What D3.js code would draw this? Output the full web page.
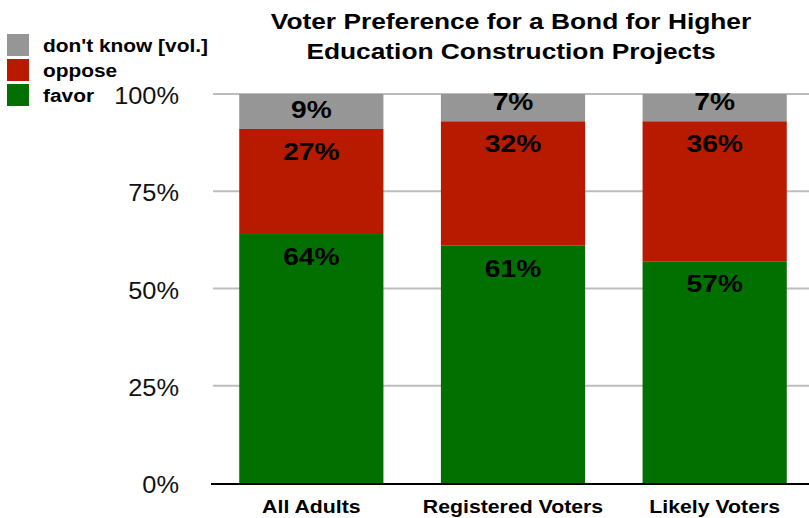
<!DOCTYPE html>
<html>
<head>
<meta charset="utf-8">
<script src="https://cdn.jsdelivr.net/npm/d3@7"></script>
<style>
  body { margin: 0; background: #fff; }
  text { font-family: "Liberation Sans", Arial, Helvetica, sans-serif; }
</style>
</head>
<body>
<script>
// chart data
var groups = ["All Adults", "Registered Voters", "Likely Voters"];
var keys = ["favor", "oppose", "dontknow"];
var keyLabels = ["favor", "oppose", "don't know [vol.]"];
var favor = [64, 61, 57];
var oppose = [27, 32, 36];
var dontknow = [9, 7, 7];
var yTicks = [0, 25, 50, 75, 100];
var colors = ["#017000", "#b81a00", "#969696"];

var width = 809, height = 518;
var wide = 1.15; // the original lettering is a bit wider than Arial

var svg = d3.select("body").append("svg")
    .attr("width", width)
    .attr("height", height);

// build rows for the stack
var rows = groups.map(function(g, i){
    return {group: g, favor: favor[i], oppose: oppose[i], dontknow: dontknow[i]};
});
var series = d3.stack().keys(keys)(rows);

var x = d3.scaleBand()
    .domain(groups)
    .range([211, 815])
    .paddingInner(0.285)
    .paddingOuter(0.14);

var y = d3.scaleLinear()
    .domain([0, 100])
    .range([483, 94]);

// gridlines
svg.append("g").selectAll("line")
    .data(yTicks.filter(function(d){ return d > 0; }))
    .enter().append("line")
    .attr("x1", 213).attr("x2", width)
    .attr("y1", function(d){ return y(d); })
    .attr("y2", function(d){ return y(d); })
    .attr("stroke", "#bdbdbd")
    .attr("stroke-width", 2);

// y axis labels
var yAxis = d3.axisLeft(y).tickValues(yTicks)
    .tickFormat(function(d){ return d + "%"; })
    .tickSize(0).tickPadding(0);
var ya = svg.append("g").attr("transform", "translate(179,2)").call(yAxis);
ya.select(".domain").remove();
ya.selectAll("text")
    .attr("font-size", 23.5)
    .attr("fill", "#111")
    .attr("transform", "scale(1.08,1)")
    .style("font-family", "'Liberation Sans', Arial, sans-serif");

// bars
var layer = svg.append("g").selectAll("g")
    .data(series)
    .enter().append("g")
    .attr("fill", function(d, i){ return colors[i]; });

layer.selectAll("rect")
    .data(function(d){ return d; })
    .enter().append("rect")
    .attr("x", function(d){ return x(d.data.group); })
    .attr("width", x.bandwidth())
    .attr("y", function(d){ return y(d[1]); })
    .attr("height", function(d){ return y(d[0]) - y(d[1]); });

// value labels
layer.selectAll("text")
    .data(function(d){ return d; })
    .enter().append("text")
    .attr("transform", function(d){
        var top = y(d[1]), bottom = y(d[0]);
        var ty = Math.min(top + 31, bottom - 11);
        var tx = x(d.data.group) + x.bandwidth() / 2;
        return "translate(" + tx + "," + ty + ") scale(" + wide + ",1)";
    })
    .attr("text-anchor", "middle")
    .attr("font-size", 24.5)
    .attr("font-weight", "bold")
    .attr("fill", "#000")
    .text(function(d){ return (d[1] - d[0]) + "%"; });

// baseline
svg.append("line")
    .attr("x1", 211).attr("x2", width)
    .attr("y1", y(0) + 1).attr("y2", y(0) + 1)
    .attr("stroke", "#000")
    .attr("stroke-width", 2);

// x axis labels
var xAxis = d3.axisBottom(x).tickSize(0).tickPadding(0);
var xa = svg.append("g").attr("transform", "translate(0,513)").call(xAxis);
xa.select(".domain").remove();
xa.selectAll("text")
    .attr("font-size", 18.5)
    .attr("font-weight", "bold")
    .attr("fill", "#000")
    .attr("dy", 0)
    .attr("transform", "scale(" + wide + ",1)")
    .style("font-family", "'Liberation Sans', Arial, sans-serif");

// title
var titleLines = ["Voter Preference for a Bond for Higher", "Education Construction Projects"];
svg.append("g").selectAll("text")
    .data(titleLines)
    .enter().append("text")
    .attr("transform", function(d, i){
        return "translate(511," + (29 + i * 30) + ") scale(1.17,1)";
    })
    .attr("text-anchor", "middle")
    .attr("font-size", 22.5)
    .attr("font-weight", "bold")
    .text(function(d){ return d; });

// legend (top to bottom: don't know, oppose, favor)
var legendOrder = [2, 1, 0];
var lg = svg.append("g").selectAll("g")
    .data(legendOrder)
    .enter().append("g")
    .attr("transform", function(d, i){ return "translate(7," + (34 + i * 25) + ")"; });
lg.append("rect")
    .attr("width", 22).attr("height", 22)
    .attr("fill", function(d){ return colors[d]; });
lg.append("text")
    .attr("transform", "translate(36,18) scale(1.16,1)")
    .attr("font-size", 18)
    .attr("font-weight", "bold")
    .text(function(d){ return keyLabels[d]; });
</script>
</body>
</html>
